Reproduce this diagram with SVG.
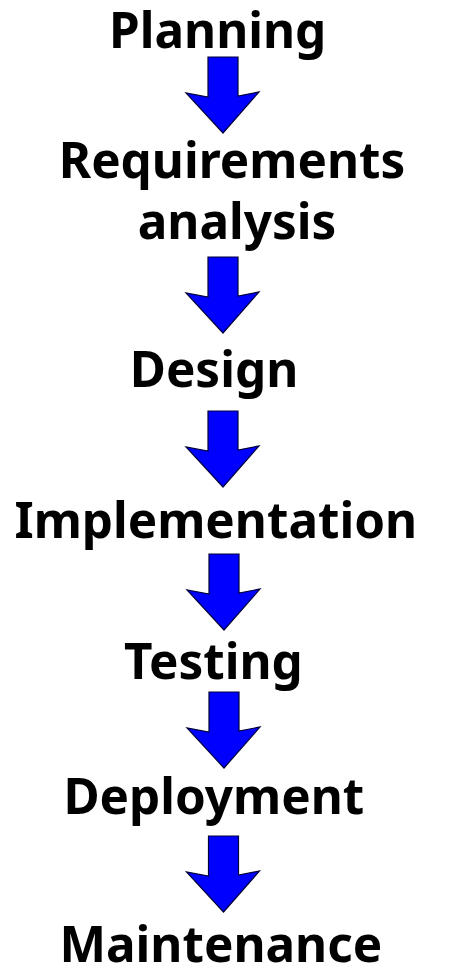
<svg xmlns="http://www.w3.org/2000/svg" xmlns:xlink="http://www.w3.org/1999/xlink" width="474" height="980" viewBox="0 0 474 980">
  <style>
    .label { font-family: "Noto Sans", "Open Sans", "DejaVu Sans", sans-serif; font-weight: bold; font-size: 49.4px; fill: #000000; text-anchor: middle; }
    .arrow { fill: #0000ff; stroke: #00003a; stroke-width: 1.2; stroke-linejoin: miter; }
  </style>
  <defs>
    <path id="downArrow" d="M-15,0 H15 V39 L36,35 L0,76 L-37,36 L-15,40 Z"/>
  </defs>
  <rect width="474" height="980" fill="#ffffff"/>
  <g id="connectors">
    <use xlink:href="#downArrow" class="arrow" transform="translate(223,57)"/>
    <use xlink:href="#downArrow" class="arrow" transform="translate(223,257)"/>
    <use xlink:href="#downArrow" class="arrow" transform="translate(223,411)"/>
    <use xlink:href="#downArrow" class="arrow" transform="translate(224,554)"/>
    <use xlink:href="#downArrow" class="arrow" transform="translate(224,692)"/>
    <use xlink:href="#downArrow" class="arrow" transform="translate(223.5,836)"/>
  </g>
  <g id="planning"><text class="label" x="217.7" y="48">Planning</text></g>
  <g id="requirements-analysis">
    <text class="label" x="232" y="178.3">Requirements</text>
    <text class="label" x="237" y="239.3">analysis</text>
  </g>
  <g id="design"><text class="label" x="214" y="386.7">Design</text></g>
  <g id="implementation"><text class="label" x="215.8" y="537.7">Implementation</text></g>
  <g id="testing"><text class="label" x="213.3" y="679">Testing</text></g>
  <g id="deployment"><text class="label" x="213.8" y="814">Deployment</text></g>
  <g id="maintenance"><text class="label" x="220.8" y="961.7">Maintenance</text></g>
</svg>
